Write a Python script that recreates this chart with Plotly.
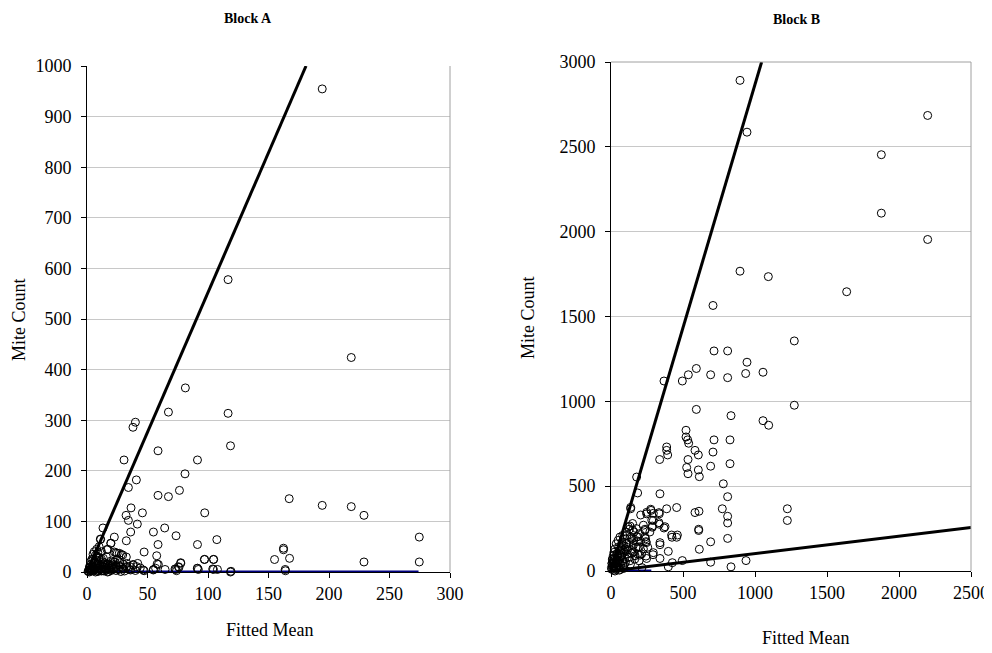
import plotly.graph_objects as go

# ---------------- Block A data ----------------
a_fitted = [194.4, 116.6, 218.4, 81.3, 67.3, 116.6, 40.0, 38.0, 118.6, 58.7,
            30.6, 91.3, 81.0, 40.8, 76.4, 34.2, 58.7, 67.3, 167.1, 194.4,
            218.4, 228.9, 36.4, 45.8, 97.3, 32.3, 34.2, 41.6, 13.2, 64.2,
            54.9, 36.1, 73.6, 22.6, 274.6, 11.0, 107.3, 32.5, 19.6, 58.7,
            91.3, 16.5, 162.4, 162.4, 47.2, 22.6, 25.0, 28.4, 32.5, 13.5,
            57.6, 155.0, 167.4, 97.0, 104.5, 228.9, 274.6, 8.5, 59.0, 77.5,
            76.0, 73.3, 92.0, 91.3, 104.5, 107.8, 118.6, 163.8, 164.0, 64.5,
            55.0, 56.7, 47.2, 41.0, 38.0, 35.3, 32.5, 29.8, 24.3, 20.4,
            32.8, 38.3, 41.9, 21.7, 27.3, 46.5, 54.8, 58.0, 72.7, 75.5,
            77.4, 74.0, 91.2, 103.9, 119.0, 97.2, 104.7, 17.4, 19.8, 9.4,
            24.0, 26.7, 29.5, 21.7, 11.3,
            1, 2, 3, 4, 5, 6, 7, 8, 9, 10, 11, 12, 13, 14, 15, 16, 17, 18, 19, 20,
            22, 24, 26, 28, 30, 3, 5, 7, 9, 11, 13, 15, 2, 4, 6, 8, 10, 12, 14, 16,
            18, 20, 25, 30, 35, 40, 44,
            1, 2, 3, 4, 5, 6, 7, 8, 9, 10, 11, 12, 13, 14, 15, 16, 17, 18, 19, 20,
            21, 22, 23, 24, 26, 27, 29, 31, 33, 36, 5, 6, 7, 8, 9, 10, 12, 2, 3, 4]
a_count = [954.7, 577.8, 423.9, 363.8, 316.0, 313.6, 296.0, 286.0, 249.4, 239.5,
           221.4, 221.4, 194.0, 182.0, 161.3, 167.0, 151.4, 149.0, 144.9, 131.7,
           129.2, 112.0, 126.7, 116.9, 116.9, 112.0, 102.0, 94.7, 87.0, 87.0,
           79.0, 79.0, 71.6, 69.0, 69.0, 65.0, 64.0, 61.7, 56.8, 54.3,
           54.3, 44.4, 47.0, 44.0, 39.5, 39.5, 37.0, 34.6, 29.6, 27.0,
           32.1, 24.7, 27.0, 24.7, 24.7, 19.8, 19.8, 31.0, 14.8, 17.3,
           9.0, 5.0, 5.0, 7.4, 5.0, 5.0, 0.0, 5.0, 2.5, 5.0,
           5.0, 7.4, 2.5, 10.7, 14.8, 10.7, 9.0, 6.6, 9.0, 12.3,
           17.0, 13.8, 17.0, 13.8, 10.5, 4.0, 4.0, 15.8, 6.0, 10.5,
           18.4, 2.6, 7.3, 6.0, 1.4, 25.0, 25.0, 44.8, 56.7, 27.0,
           38.0, 37.0, 33.6, 20.4, 64.6,
           2, 0, 5, 12, 3, 20, 8, 30, 1, 15, 5, 25, 10, 2, 18, 7, 0, 12, 4, 22,
           9, 3, 14, 1, 6, 15, 25, 0, 18, 12, 20, 5, 8, 3, 10, 22, 28, 2, 15, 30,
           1, 10, 25, 15, 5, 3, 8,
           1, 4, 2, 6, 9, 4, 12, 2, 7, 3, 9, 14, 3, 11, 8, 4, 15, 8, 13, 3,
           16, 6, 20, 12, 5, 18, 9, 2, 11, 4, 35, 40, 33, 45, 38, 50, 40, 10, 20, 25]

a_upper_x = [0, 181]
a_upper_y = [0, 1000]
a_base_x = [0, 274]
a_base_y = [0, 0]

# ---------------- Block B data ----------------
b_fitted = [895.8, 944.4, 2199, 1877.3, 1877.3, 2199, 895.8, 1092.6, 1636.6, 708.3,
            1273, 715.3, 810, 944.4, 592.6, 1055.6, 935.2, 537, 692, 810,
            368, 495.4, 592.6, 1273, 833.3, 1055.6, 1095, 520.8, 520.8, 532.4,
            715.3, 826.4, 539.4, 386.6, 386.6, 583.3, 708.3, 606.5, 393.5, 338,
            534.7, 826.4, 692, 525.5, 606.5, 534.7, 613.4, 178, 780, 185,
            810, 340, 456, 386.6, 1224.5, 773, 583.3, 611, 810, 136.6,
            1224.5, 810, 277.8, 247.7, 335.6, 294, 335.6, 368, 287, 608.8,
            236, 810, 423.6, 456, 245.4, 692, 340, 613.4, 398, 291.7,
            340, 247.7, 426, 495.4, 692, 937.5, 833.3, 398,
            137, 206, 248, 276, 294, 333, 127, 283, 287, 236,
            333, 375, 421, 461, 609, 178, 183, 243, 197, 155,
            109, 86, 62.5, 39.6, 144, 201, 16, 132, 185, 340, 294, 243,
            5, 10, 15, 20, 25, 30, 35, 40, 45, 50, 55, 60, 65, 70, 75, 80, 85, 90, 95, 100,
            8, 12, 18, 22, 28, 33, 38, 48, 58, 68, 78, 88, 98, 105, 115, 125, 135, 145, 155, 165,
            175, 185, 195, 205, 215, 225, 235, 160, 150, 110,
            3, 6, 9, 12, 16, 20, 24, 27, 31, 36, 40, 44, 49, 53, 57, 62, 66, 71, 76, 82,
            87, 93, 99, 104, 109, 114, 120, 126, 131, 138, 144, 150, 158, 167, 176, 188,
            199, 212, 225, 240, 255, 270]
b_count = [2891.7, 2586.5, 2685, 2453.6, 2109, 1954, 1767, 1735, 1646, 1565,
           1356, 1297, 1297, 1230.5, 1193.6, 1171.5, 1164, 1156.7, 1156.7, 1139.5,
           1119.8, 1119.8, 952.4, 977, 915.5, 886, 859, 829.4, 790, 772.8,
           772.8, 772.8, 753, 731, 711, 711, 701, 684, 684, 657,
           657, 632.5, 617.7, 610, 595.6, 573.4, 556, 553.8, 514, 460,
           438, 455, 374, 366.7, 366.7, 366.7, 344.5, 352, 322.4, 366.7,
           297.8, 283, 357, 337, 337, 297.8, 275.6, 253.5, 258, 238.7,
           238.7, 192, 199, 199, 167, 172, 155, 128, 115.7, 96,
           73.8, 73.8, 49, 61.5, 51.7, 61.5, 24.6, 24.6,
           375, 330, 346, 364, 340, 344, 246, 300, 265, 246,
           285, 261, 212, 212, 246, 202, 173, 173, 143, 153,
           163, 124, 84, 65, 104, 94, 45, 265, 202, 167, 108, 88,
           10, 30, 60, 5, 80, 40, 15, 100, 60, 25, 120, 45, 10, 90, 140, 60, 30, 110, 75, 50,
           45, 70, 20, 95, 0, 55, 25, 85, 5, 35, 105, 15, 130, 160, 125, 80, 40, 190, 110, 70,
           140, 100, 60, 175, 20, 130, 200, 230, 240, 210,
           20, 45, 70, 15, 90, 110, 50, 130, 75, 160, 20, 95, 180, 140, 60, 200, 120, 85, 170, 210,
           150, 40, 190, 230, 140, 100, 260, 170, 60, 200, 120, 280, 180, 90, 250, 140,
           220, 100, 270, 190, 140, 230]

b_upper_x = [0, 1046]
b_upper_y = [0, 3000]
b_lower_x = [0, 2500]
b_lower_y = [0, 257]
b_base_x = [0, 280]
b_base_y = [0, 0]

a_xticks = [0, 50, 100, 150, 200, 250, 300]
a_yticks = [0, 100, 200, 300, 400, 500, 600, 700, 800, 900, 1000]
b_xticks = [0, 500, 1000, 1500, 2000, 2500]
b_yticks = [0, 500, 1000, 1500, 2000, 2500, 3000]

# the page's default 8px body margin shifts the figure; size it to reach the window edge
OFF = 8
W, H = 992 - OFF, 653 - OFF
FONT = "Liberation Serif, Times New Roman, serif"


def px_x(p):
    return (p - OFF) / W


def px_y(p):
    return 1 - (p - OFF) / H


fig = go.Figure()

marker = dict(symbol="circle-open", size=8, color="black", line=dict(width=1, color="black"))

# Block A
fig.add_trace(go.Scatter(x=a_base_x, y=a_base_y, mode="lines",
                         line=dict(color="#000080", width=3), xaxis="x", yaxis="y",
                         showlegend=False, hoverinfo="skip", cliponaxis=False))
fig.add_trace(go.Scatter(x=a_fitted, y=a_count, mode="markers", marker=marker,
                         xaxis="x", yaxis="y", showlegend=False, cliponaxis=False))
fig.add_trace(go.Scatter(x=a_upper_x, y=a_upper_y, mode="lines",
                         line=dict(color="black", width=3), xaxis="x", yaxis="y",
                         showlegend=False, hoverinfo="skip"))

# Block B
fig.add_trace(go.Scatter(x=b_base_x, y=b_base_y, mode="lines",
                         line=dict(color="#000080", width=3), xaxis="x2", yaxis="y2",
                         showlegend=False, hoverinfo="skip", cliponaxis=False))
fig.add_trace(go.Scatter(x=b_fitted, y=b_count, mode="markers", marker=marker,
                         xaxis="x2", yaxis="y2", showlegend=False, cliponaxis=False))
fig.add_trace(go.Scatter(x=b_upper_x, y=b_upper_y, mode="lines",
                         line=dict(color="black", width=3), xaxis="x2", yaxis="y2",
                         showlegend=False, hoverinfo="skip"))
fig.add_trace(go.Scatter(x=b_lower_x, y=b_lower_y, mode="lines",
                         line=dict(color="black", width=3), xaxis="x2", yaxis="y2",
                         showlegend=False, hoverinfo="skip", cliponaxis=False))

axis_common = dict(showline=True, linecolor="black", linewidth=1, ticks="outside",
                   ticklen=5, tickcolor="black", tickwidth=1, zeroline=False,
                   automargin=False, ticklabeloverflow="allow",
                   tickfont=dict(family=FONT, size=18, color="black"), fixedrange=True)

ann_font = dict(family=FONT, size=18, color="black")
title_font = dict(family=FONT, size=14, color="black")


def ann(text, x, y, font, angle=0):
    return dict(text=text, x=px_x(x), y=px_y(y), xref="paper", yref="paper",
                xanchor="center", yanchor="middle", textangle=angle,
                showarrow=False, font=font)


fig.update_layout(
    width=W, height=H, margin=dict(l=0, r=0, t=0, b=0, pad=0, autoexpand=False),
    paper_bgcolor="white", plot_bgcolor="white", showlegend=False,
    xaxis=dict(domain=[px_x(87), px_x(450)], range=[0, 300], tickvals=a_xticks,
               showgrid=False, anchor="y", **axis_common),
    yaxis=dict(domain=[px_y(572), px_y(66)], range=[0, 1000], tickvals=a_yticks,
               showgrid=True, gridcolor="#c8c8c8", gridwidth=1, anchor="x",
               ticklabelstandoff=6, **axis_common),
    xaxis2=dict(domain=[px_x(611), px_x(971)], range=[0, 2500], tickvals=b_xticks,
                showgrid=False, anchor="y2", **axis_common),
    yaxis2=dict(domain=[px_y(571), px_y(62)], range=[0, 3000], tickvals=b_yticks,
                showgrid=True, gridcolor="#c8c8c8", gridwidth=1, anchor="x2",
                ticklabelstandoff=6, **axis_common),
    shapes=[
        dict(type="line", xref="x domain", yref="y domain", x0=1, x1=1, y0=0, y1=1,
             line=dict(color="#a0a0a0", width=1)),
        dict(type="line", xref="x2 domain", yref="y2 domain", x0=1, x1=1, y0=0, y1=1,
             line=dict(color="#a0a0a0", width=1)),
        dict(type="line", xref="x2 domain", yref="y2 domain", x0=0, x1=1, y0=1, y1=1,
             line=dict(color="#a0a0a0", width=1)),
    ],
    annotations=[
        ann("<b>Block A</b>", 248, 18, title_font),
        ann("<b>Block B</b>", 796, 20, title_font),
        ann("Mite Count", 19, 320, ann_font, -90),
        ann("Mite Count", 528, 318, ann_font, -90),
        ann("Fitted Mean", 270, 630, ann_font),
        ann("Fitted Mean", 806, 638, ann_font),
    ],
)

fig.write_html("out.html")
